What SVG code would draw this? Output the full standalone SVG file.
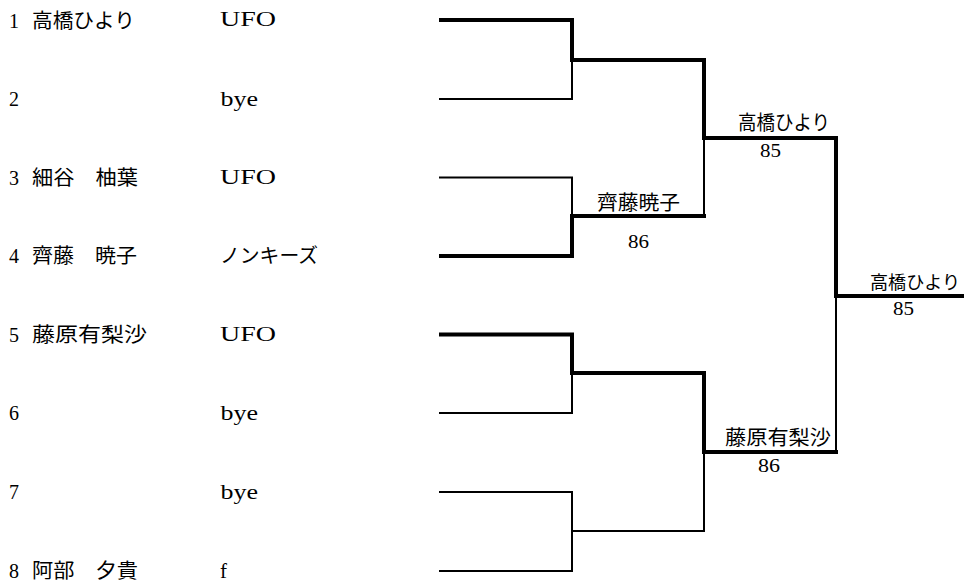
<svg xmlns="http://www.w3.org/2000/svg" width="964" height="586" viewBox="0 0 964 586">
<style>
.bg{fill:#fff}
.thin{stroke:#000;stroke-width:2;fill:none;stroke-linejoin:miter}
.thick{stroke:#000;stroke-width:4;fill:none;stroke-linejoin:miter}
.lat{font-family:"Liberation Serif","DejaVu Serif",serif;font-size:20px;fill:#000}
.num{font-family:"Liberation Serif","DejaVu Serif",serif;font-size:19px;fill:#000}
.cjk{font-family:"Noto Sans CJK JP","Noto Sans",sans-serif;font-size:20px;fill:#000}
.cjk18{font-family:"Noto Sans CJK JP","Noto Sans",sans-serif;font-size:18px;fill:#000}
</style>
<rect class="bg" x="0" y="0" width="964" height="586"/>
<g id="entry1"><text class="lat" x="9" y="27.5">1</text><text class="cjk" x="32" y="27.5" textLength="103" lengthAdjust="spacingAndGlyphs">高橋ひより</text><text class="lat" x="220" y="26" textLength="56" lengthAdjust="spacingAndGlyphs">UFO</text></g>
<g id="entry2"><text class="lat" x="9" y="106">2</text><text class="lat" x="220.5" y="105.5" textLength="37.5" lengthAdjust="spacingAndGlyphs">bye</text></g>
<g id="entry3"><text class="lat" x="9" y="184.5">3</text><text class="cjk" x="32" y="184.5" textLength="106" lengthAdjust="spacingAndGlyphs">細谷　柚葉</text><text class="lat" x="220" y="184" textLength="56" lengthAdjust="spacingAndGlyphs">UFO</text></g>
<g id="entry4"><text class="lat" x="9" y="263">4</text><text class="cjk" x="32" y="263" textLength="105" lengthAdjust="spacingAndGlyphs">齊藤　暁子</text><text class="cjk" x="220" y="263" textLength="98" lengthAdjust="spacingAndGlyphs">ノンキーズ</text></g>
<g id="entry5"><text class="lat" x="9" y="341.5">5</text><text class="cjk" x="32" y="341.5" textLength="115" lengthAdjust="spacingAndGlyphs">藤原有梨沙</text><text class="lat" x="220" y="341" textLength="56" lengthAdjust="spacingAndGlyphs">UFO</text></g>
<g id="entry6"><text class="lat" x="9" y="420">6</text><text class="lat" x="220.5" y="419.5" textLength="37.5" lengthAdjust="spacingAndGlyphs">bye</text></g>
<g id="entry7"><text class="lat" x="9" y="499">7</text><text class="lat" x="220.5" y="498.5" textLength="37.5" lengthAdjust="spacingAndGlyphs">bye</text></g>
<g id="entry8"><text class="lat" x="9" y="578">8</text><text class="cjk" x="32" y="578" textLength="106" lengthAdjust="spacingAndGlyphs">阿部　夕貴</text><text class="lat" x="220" y="577.5" textLength="7" lengthAdjust="spacingAndGlyphs">f</text></g>
<g id="connectors">
<path class="thin" d="M439,99 H572 V60"/>
<path class="thin" d="M439,177.5 H572 V216"/>
<path class="thin" d="M704,216 V138"/>
<path class="thin" d="M439,413 H572 V373"/>
<path class="thin" d="M439,492 H572 V571 H439"/>
<path class="thin" d="M572,531 H704 V452"/>
<path class="thin" d="M836,452 V296"/>
<path class="thick" d="M439,256 H572 V216 H706"/>
<path class="thick" d="M439,334.5 H572 V373 H704 V452 H838"/>
<path class="thick" d="M439,20 H572 V60 H704 V138 H836 V296 H964"/>
</g>
<g id="sf1-label"><text class="cjk" x="597" y="210" textLength="83" lengthAdjust="spacingAndGlyphs">齊藤暁子</text><text class="num" x="628" y="248" textLength="21" lengthAdjust="spacingAndGlyphs">86</text></g>
<g id="sf2-label"><text class="cjk" x="738" y="130" textLength="92" lengthAdjust="spacingAndGlyphs">高橋ひより</text><text class="num" x="760" y="157" textLength="21" lengthAdjust="spacingAndGlyphs">85</text></g>
<g id="sf3-label"><text class="cjk" x="725" y="445" textLength="106" lengthAdjust="spacingAndGlyphs">藤原有梨沙</text><text class="num" x="758" y="472" textLength="22" lengthAdjust="spacingAndGlyphs">86</text></g>
<g id="final-label"><text class="cjk18" x="870" y="288.5" textLength="90" lengthAdjust="spacingAndGlyphs">高橋ひより</text><text class="num" x="893" y="315" textLength="21" lengthAdjust="spacingAndGlyphs">85</text></g>
</svg>
